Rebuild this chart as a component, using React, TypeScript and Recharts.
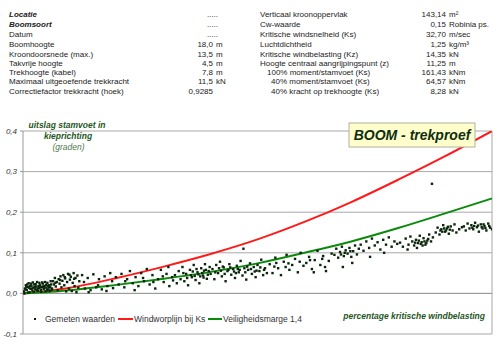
import React from 'react';
import { ComposedChart, Scatter, Line, XAxis, YAxis, CartesianGrid, ReferenceLine } from 'recharts';

// assen
const xTicks = [0, 10, 20, 30, 40, 50];
const yTicks = [-0.1, 0, 0.1, 0.2, 0.3, 0.4];

// lijnen (percentage kritische windbelasting -> uitslag in graden)
const curveX = [0, 5, 10, 15, 20, 25, 30, 35, 40, 45, 50];
const windworpY = [0, 0.014, 0.038, 0.066, 0.097, 0.133, 0.176, 0.225, 0.28, 0.338, 0.4];
const veiligheidY = [0, 0.008, 0.021, 0.036, 0.053, 0.074, 0.1, 0.128, 0.161, 0.197, 0.234];

// gemeten waarden [percentage, uitslag]
const measured: [number, number][] = [
  [0.1, 0.005], [0.2, 0.012], [0.3, 0.02], [0.4, 0.008], [0.5, 0.016], [0.6, 0.025], [0.7, 0.003], [0.8, 0.011],
  [0.9, 0.019], [1.0, 0.007], [1.1, 0.014], [1.2, 0.022], [1.3, 0.01], [1.4, 0.017], [1.5, 0.028], [1.6, 0.006],
  [1.7, 0.013], [1.8, 0.02], [1.9, 0.009], [2.0, 0.016], [2.1, 0.024], [2.2, 0.011], [2.3, 0.018], [2.4, 0.005],
  [2.5, 0.014], [2.6, 0.026], [2.7, 0.01], [2.8, 0.02], [2.9, 0.015], [3.0, 0.022], [0.15, 0.0], [0.35, 0.015],
  [0.55, 0.002], [0.75, 0.018], [0.95, 0.012], [1.15, 0.004], [1.35, 0.023], [1.55, 0.012], [1.75, 0.026],
  [1.95, 0.004], [2.15, 0.017], [2.35, 0.028], [2.55, 0.008], [2.75, 0.016], [2.95, 0.03], [0.45, 0.022],
  [1.05, 0.027], [1.65, 0.018], [2.25, 0.013], [2.85, 0.006], [0.25, 0.01], [0.65, 0.014], [0.85, 0.024],
  [1.25, 0.016], [1.45, 0.008], [1.85, 0.015], [2.05, 0.027], [2.45, 0.021], [2.65, 0.019], [3.05, 0.009],
  [3.1, 0.012], [3.2, 0.03], [3.3, 0.022], [3.4, 0.038], [3.5, 0.017], [3.6, 0.028], [3.7, 0.008], [3.8, 0.035],
  [3.9, 0.024], [4.0, 0.042], [4.1, 0.015], [4.2, 0.031], [4.3, 0.045], [4.4, 0.02], [4.5, 0.037], [4.6, 0.005],
  [4.7, 0.028], [4.8, 0.048], [4.9, 0.012], [5.0, 0.034], [5.1, 0.041], [5.2, 0.006], [5.3, 0.026], [5.4, 0.05],
  [5.5, 0.018], [5.6, 0.038], [5.7, 0.003], [5.8, 0.044], [5.9, 0.014], [6.0, 0.03], [3.45, 0.026],
  [3.95, 0.033], [4.45, 0.04], [4.95, 0.046], [5.45, 0.036],
  [6.3, 0.045], [6.6, 0.012], [6.9, 0.038], [7.2, 0.008], [7.5, 0.047], [7.8, 0.015], [8.1, 0.035], [8.4, 0.01],
  [8.7, 0.042], [9.0, 0.018], [9.3, 0.05], [9.6, 0.013], [9.9, 0.04], [6.5, 0.028], [7.0, 0.003], [8.0, 0.02],
  [8.9, 0.006], [9.5, 0.03],
  [10.2, 0.022], [10.5, 0.048], [10.8, 0.015], [11.1, 0.035], [11.4, 0.055], [11.7, 0.025], [12.0, 0.04],
  [12.3, 0.018], [12.6, 0.05], [12.9, 0.03], [13.2, 0.06], [13.5, 0.022], [13.8, 0.045], [14.1, 0.012],
  [14.4, 0.035], [14.7, 0.058], [15.0, 0.028], [15.3, 0.048], [15.6, 0.018], [15.9, 0.04], [10.9, 0.03],
  [11.9, 0.008], [12.8, 0.038], [13.9, 0.028], [14.9, 0.042], [15.5, 0.065], [16.0, 0.032],
  [16.2, 0.045], [16.4, 0.025], [16.6, 0.055], [16.8, 0.035], [17.0, 0.065], [17.2, 0.03], [17.4, 0.048],
  [17.6, 0.02], [17.8, 0.058], [18.0, 0.04], [18.2, 0.07], [18.4, 0.033], [18.6, 0.052], [18.8, 0.025],
  [19.0, 0.062], [19.2, 0.044], [19.4, 0.072], [19.6, 0.036], [19.8, 0.055], [20.0, 0.048], [17.1, 0.05],
  [17.9, 0.045], [18.5, 0.06], [19.1, 0.05], [19.5, 0.058], [19.9, 0.065], [18.9, 0.042], [17.5, 0.038],
  [18.1, 0.054], [18.7, 0.047], [19.3, 0.056], [19.7, 0.046], [18.3, 0.043], [19.25, 0.039],
  [20.2, 0.06], [20.4, 0.035], [20.6, 0.07], [20.8, 0.05], [21.0, 0.078], [21.2, 0.042], [21.4, 0.064],
  [21.6, 0.03], [21.8, 0.055], [22.0, 0.072], [22.2, 0.046], [22.4, 0.06], [22.6, 0.038], [22.8, 0.068],
  [23.0, 0.052], [23.2, 0.08], [23.4, 0.044], [23.6, 0.062], [23.8, 0.034], [24.0, 0.058], [24.2, 0.074],
  [24.4, 0.048], [24.6, 0.065], [24.8, 0.04], [25.0, 0.07], [25.2, 0.055], [25.4, 0.083], [25.6, 0.045],
  [25.8, 0.062], [26.0, 0.05], [20.9, 0.062], [21.9, 0.058], [22.9, 0.06], [23.9, 0.066], [24.9, 0.056],
  [23.5, 0.11], [20.5, 0.052], [21.1, 0.056], [21.5, 0.048], [22.1, 0.064], [22.5, 0.054], [23.1, 0.058],
  [23.7, 0.052], [24.3, 0.06], [24.7, 0.054], [25.3, 0.064], [25.7, 0.058], [21.3, 0.066], [22.7, 0.05],
  [26.3, 0.072], [26.6, 0.05], [26.9, 0.088], [27.2, 0.062], [27.5, 0.045], [27.8, 0.078], [28.1, 0.095],
  [28.4, 0.058], [28.7, 0.07], [29.0, 0.085], [29.3, 0.052], [29.6, 0.1], [29.9, 0.068], [27.0, 0.075],
  [28.0, 0.065], [29.5, 0.078], [26.8, 0.066], [28.3, 0.074],
  [30.2, 0.075], [30.5, 0.09], [30.8, 0.06], [31.1, 0.082], [31.4, 0.105], [31.7, 0.07], [32.0, 0.092],
  [32.3, 0.055], [32.6, 0.08], [32.9, 0.098], [31.0, 0.052], [32.2, 0.065], [30.6, 0.082], [31.9, 0.085],
  [33.2, 0.095], [33.4, 0.11], [33.6, 0.088], [33.8, 0.102], [34.0, 0.115], [34.2, 0.092], [34.4, 0.106],
  [34.6, 0.098], [34.8, 0.112], [35.0, 0.09], [35.2, 0.104], [35.4, 0.118], [35.6, 0.096], [35.8, 0.11],
  [34.1, 0.065], [35.1, 0.075], [34.3, 0.1], [34.9, 0.104], [33.9, 0.096],
  [36.0, 0.12], [36.3, 0.105], [36.6, 0.128], [36.9, 0.112], [37.2, 0.135], [37.5, 0.118], [37.8, 0.126],
  [38.1, 0.108], [38.4, 0.132], [38.7, 0.12], [39.0, 0.138], [39.3, 0.115], [39.6, 0.128], [39.9, 0.122],
  [37.0, 0.09], [38.5, 0.1],
  [40.2, 0.125], [40.5, 0.115], [40.8, 0.135], [41.1, 0.12], [41.3, 0.14], [41.5, 0.128], [41.7, 0.118],
  [41.9, 0.132], [42.1, 0.124], [42.3, 0.142], [42.5, 0.126], [42.7, 0.136], [42.9, 0.12], [43.1, 0.13],
  [43.3, 0.145], [43.5, 0.128], [43.7, 0.138], [42.0, 0.112], [42.6, 0.118], [41.0, 0.108], [43.6, 0.27],
  [41.8, 0.125], [42.2, 0.13], [42.4, 0.122], [42.8, 0.128], [43.0, 0.124], [43.2, 0.134],
  [44.0, 0.15], [44.2, 0.162], [44.4, 0.145], [44.6, 0.158], [44.8, 0.168], [45.0, 0.152], [45.2, 0.16],
  [45.4, 0.147], [45.6, 0.165], [45.8, 0.155], [46.0, 0.17], [46.2, 0.15], [46.5, 0.158], [46.8, 0.163],
  [44.5, 0.155], [45.5, 0.157], [44.9, 0.16], [45.1, 0.155], [45.3, 0.164], [44.7, 0.152],
  [47.0, 0.165], [47.2, 0.155], [47.4, 0.172], [47.6, 0.16], [47.8, 0.168], [48.0, 0.158], [48.2, 0.174],
  [48.4, 0.163], [48.6, 0.152], [48.8, 0.17], [49.0, 0.16], [49.2, 0.166], [49.4, 0.155], [49.6, 0.172],
  [49.8, 0.162], [50.0, 0.158], [48.1, 0.166], [49.1, 0.17], [48.5, 0.167], [48.9, 0.163], [49.3, 0.161],
  [49.7, 0.166], [47.9, 0.162],
];

// kopgegevens
const leftLabels = ['Locatie', 'Boomsoort', 'Datum', 'Boomhoogte', 'Kroondoorsnede (max.)', 'Takvrije hoogte',
  'Trekhoogte (kabel)', 'Maximaal uitgeoefende trekkracht', 'Correctiefactor trekkracht (hoek)'];
const leftValues = ['.....', '.....', '.....', '18,0', '13,5', '4,5', '7,8', '11,5', '0,9285'];
const leftUnits = ['', '', '', 'm', 'm', 'm', 'm', 'kN', ''];
const rightLabels = ['Verticaal kroonoppervlak', 'Cw-waarde', 'Kritische windsnelheid (Ks)', 'Luchtdichtheid',
  'Kritische windbelasting (Kz)', 'Hoogte centraal aangrijpingspunt (z)', '100% moment/stamvoet (Ks)',
  '40% moment/stamvoet (Ks)', '40% kracht op trekhoogte (Ks)'];
const rightValues = ['143,14', '0,15', '32,70', '1,25', '14,35', '11,25', '161,43', '64,57', '8,28'];
const rightUnits = ['m²', 'Robinia ps.', 'm/sec', 'kg/m³', 'kN', 'm', 'kNm', 'kNm', 'kN'];
const rowY = [17, 27, 36.5, 47, 56.5, 65.5, 74.5, 84, 93.5];
const rightIndent = [0, 0, 0, 0, 0, 0, 7, 11, 11];

const W = 500;
const H = 350;
const M = { top: 131, right: 8, bottom: 16, left: 0 };
const Y_MIN = -0.1;
const Y_MAX = 0.4;
const PLOT_H = H - M.top - M.bottom;
const ZERO_OFFSET = (PLOT_H * (0 - Y_MIN)) / (Y_MAX - Y_MIN);

const FONT = '"Liberation Sans", Arial, sans-serif';
const DARK_GREEN = '#1e561e';

const redData = curveX.map((x, i) => ({ x, y: windworpY[i] }));
const greenData = curveX.map((x, i) => ({ x, y: veiligheidY[i] }));
const dotData = measured.map(([x, y]) => ({ x, y }));

const fmt = (v: number) => v.toFixed(1).replace('.', ',');

// x-as ligt op y = 0, niet onderaan het plotvlak
function XTick(props: any) {
  const { x, y, payload } = props;
  const y0 = y - ZERO_OFFSET;
  return (
    <g>
      <line x1={x} x2={x} y1={y0 - 2} y2={y0 + 2} stroke="#999" />
      <text x={x} y={y0 + 12} textAnchor="middle" fontSize={8} fontStyle="italic" fill="#333" fontFamily={FONT}>
        {payload.value}
      </text>
    </g>
  );
}

const Dot = (props: any) => <rect x={props.cx - 1.2} y={props.cy - 1.2} width={2.4} height={2.4} fill="#0a260a" />;

export default function App() {
  return (
    <div style={{ position: 'absolute', left: 0, top: 0, width: W, height: H, background: '#fff', fontFamily: FONT }}>
      <ComposedChart width={W} height={H} margin={M}>
        <CartesianGrid vertical={false} stroke="#a8a8a8" horizontalValues={yTicks} />
        <XAxis
          type="number"
          dataKey="x"
          domain={[0, 50]}
          ticks={xTicks}
          height={0}
          tickSize={0}
          tickMargin={0}
          axisLine={false}
          tickLine={false}
          tick={<XTick />}
          allowDataOverflow
        />
        <YAxis
          type="number"
          dataKey="y"
          domain={[Y_MIN, Y_MAX]}
          ticks={yTicks}
          width={23}
          tickSize={3}
          tickMargin={3}
          tickFormatter={fmt}
          axisLine={{ stroke: '#999' }}
          tickLine={{ stroke: '#999' }}
          tick={{ fontSize: 8, fontStyle: 'italic', fill: '#333', fontFamily: FONT }}
          allowDataOverflow
        />
        <ReferenceLine y={0} stroke="#999" />
        <ReferenceLine x={50} stroke="#a8a8a8" />
        <Scatter data={dotData} dataKey="y" shape={<Dot />} isAnimationActive={false} />
        <Line data={redData} dataKey="y" type="monotone" stroke="#ff1a1a" strokeWidth={2} dot={false} isAnimationActive={false} />
        <Line data={greenData} dataKey="y" type="monotone" stroke="#0a8a0a" strokeWidth={2} dot={false} isAnimationActive={false} />
      </ComposedChart>

      <svg width={W} height={H} style={{ position: 'absolute', left: 0, top: 0, pointerEvents: 'none' }}>
        {/* kopgegevens links */}
        {leftLabels.map((l, i) => (
          <text key={'ll' + i} x={9} y={rowY[i]} fontSize={8} fill="#222" fontFamily={FONT}
            fontWeight={i < 2 ? 'bold' : 'normal'} fontStyle={i < 2 ? 'italic' : 'normal'}>{l}</text>
        ))}
        {leftValues.map((v, i) => (
          <text key={'lv' + i} x={leftUnits[i] || v === '0,9285' ? 213 : 218} y={rowY[i]} fontSize={8} fill="#222"
            textAnchor="end" fontFamily={FONT}>{v}</text>
        ))}
        {leftUnits.map((u, i) => (
          <text key={'lu' + i} x={216} y={rowY[i]} fontSize={8} fill="#222" fontFamily={FONT}>{u}</text>
        ))}
        {/* kopgegevens rechts */}
        {rightLabels.map((l, i) => (
          <text key={'rl' + i} x={260 + rightIndent[i]} y={rowY[i]} fontSize={8} fill="#222" fontFamily={FONT}>{l}</text>
        ))}
        {rightValues.map((v, i) => (
          <text key={'rv' + i} x={446} y={rowY[i]} fontSize={8} fill="#222" textAnchor="end" fontFamily={FONT}>{v}</text>
        ))}
        {rightUnits.map((u, i) => (
          <text key={'ru' + i} x={449} y={rowY[i]} fontSize={8} fill="#222" fontFamily={FONT}>{u}</text>
        ))}

        {/* astitels */}
        <text x={67} y={128} textAnchor="middle" fontSize={8.5} fontWeight="bold" fontStyle="italic" fill={DARK_GREEN} fontFamily={FONT}>
          uitslag stamvoet in
        </text>
        <text x={68} y={139} textAnchor="middle" fontSize={8.5} fontWeight="bold" fontStyle="italic" fill={DARK_GREEN} fontFamily={FONT}>
          kieprichting
        </text>
        <text x={68.5} y={150} textAnchor="middle" fontSize={8.5} fontStyle="italic" fill="#4d7a4d" fontFamily={FONT}>
          (graden)
        </text>
        <text x={485} y={319} textAnchor="end" fontSize={8.5} fontWeight="bold" fontStyle="italic" fill={DARK_GREEN} fontFamily={FONT}>
          percentage kritische windbelasting
        </text>

        {/* titelvak */}
        <rect x={349} y={123} width={126} height={24} fill="#ffffcc" stroke="#b0b0a0" />
        <text x={412} y={140} textAnchor="middle" fontSize={14} fontWeight="bold" fontStyle="italic" fill="#0f2d0f" fontFamily={FONT}>
          BOOM - trekproef
        </text>

        {/* legenda */}
        <rect x={34} y={318} width={2} height={2} fill="#111" />
        <text x={45} y={322} fontSize={8.5} fill="#333" fontFamily={FONT}>Gemeten waarden</text>
        <line x1={118} x2={133} y1={319} y2={319} stroke="#ff1a1a" strokeWidth={2} />
        <text x={134} y={322} fontSize={8.5} fill="#333" fontFamily={FONT}>Windworplijn bij Ks</text>
        <line x1={208} x2={222} y1={319} y2={319} stroke="#0a8a0a" strokeWidth={2} />
        <text x={223} y={322} fontSize={8.5} fill="#333" fontFamily={FONT}>Veiligheidsmarge 1,4</text>
      </svg>
    </div>
  );
}
